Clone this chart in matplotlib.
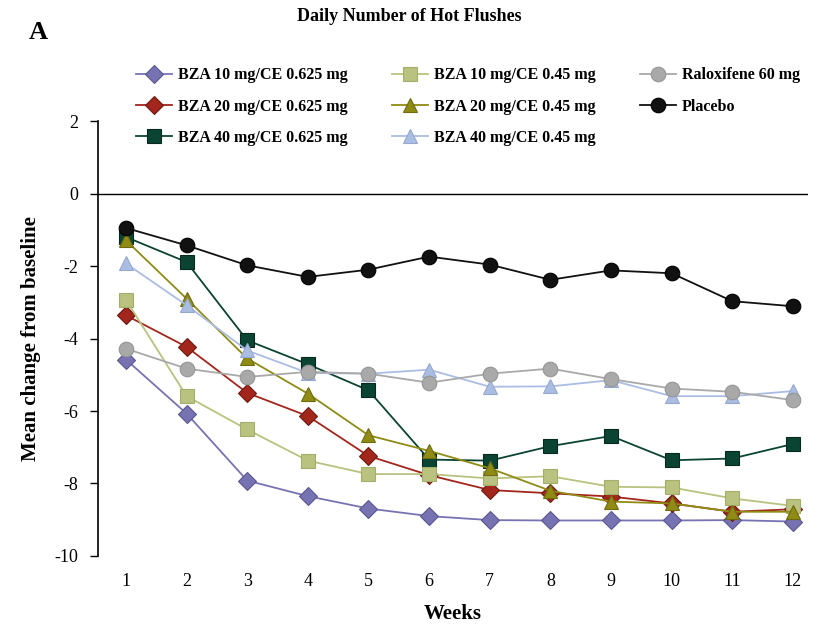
"""
Daily Number of Hot Flushes - mean change from baseline by week
"""
import matplotlib
matplotlib.use('Agg')
import matplotlib.pyplot as plt

plt.rcParams['font.family'] = ['Liberation Serif', 'DejaVu Serif']
plt.rcParams['axes.unicode_minus'] = False

weeks = list(range(1, 13))

# 数据
bza10_0625 = [-4.58, -6.07, -7.92, -8.35, -8.69, -8.90, -9.01, -9.02, -9.02, -9.02, -9.01, -9.05]
bza20_0625 = [-3.36, -4.23, -5.50, -6.14, -7.24, -7.77, -8.18, -8.27, -8.36, -8.55, -8.78, -8.71]
bza40_0625 = [-1.20, -1.89, -4.05, -4.71, -5.43, -7.34, -7.37, -6.97, -6.69, -7.36, -7.31, -6.91]
bza10_045 = [-2.93, -5.59, -6.51, -7.37, -7.74, -7.74, -7.86, -7.80, -8.09, -8.11, -8.41, -8.62]
bza20_045 = [-1.29, -2.90, -4.55, -5.52, -6.67, -7.10, -7.58, -8.20, -8.50, -8.55, -8.78, -8.78]
bza40_045 = [-1.93, -3.08, -4.33, -4.95, -4.97, -4.86, -5.33, -5.32, -5.15, -5.59, -5.59, -5.45]
raloxifene = [-4.28, -4.83, -5.06, -4.92, -4.97, -5.22, -4.97, -4.83, -5.12, -5.38, -5.47, -5.70]
placebo = [-0.95, -1.43, -1.98, -2.30, -2.10, -1.74, -1.96, -2.38, -2.12, -2.20, -2.97, -3.11]

series = [
    ("BZA 10 mg/CE 0.625 mg", bza10_0625, 'D', '#7773b2', '#5a5690', 9.5),
    ("BZA 20 mg/CE 0.625 mg", bza20_0625, 'D', '#a3261c', '#6e1a12', 9.5),
    ("BZA 40 mg/CE 0.625 mg", bza40_0625, 's', '#0b4433', '#062a1f', 9.5),
    ("BZA 10 mg/CE 0.45 mg", bza10_045, 's', '#b9c27e', '#a4ad6a', 9.5),
    ("BZA 20 mg/CE 0.45 mg", bza20_045, '^', '#8f8b14', '#6f6b0e', 10.5),
    ("BZA 40 mg/CE 0.45 mg", bza40_045, '^', '#abbde3', '#95a8d0', 10.5),
    ("Raloxifene 60 mg", raloxifene, 'o', '#a9a9a9', '#959595', 10.5),
    ("Placebo", placebo, 'o', '#111111', '#000000', 10.5),
]

fig = plt.figure(figsize=(8.19, 6.24), dpi=100)
ax = fig.add_axes([0.1197, 0.109, 0.867, 0.697])

# 绘制各组曲线
for label, vals, mk, col, ecol, ms in series:
    ax.plot(weeks, vals, color=col, lw=1.3, marker=mk, markersize=ms,
            markerfacecolor=col, markeredgecolor=ecol, markeredgewidth=0.8,
            label=label)

ax.axhline(0, color='black', lw=1.0, zorder=0)

ax.set_xlim(0.54, 12.25)
ax.set_ylim(-10, 2)
ax.set_yticks([2, 0, -2, -4, -6, -8, -10])
ax.set_xticks(weeks)
ax.tick_params(axis='y', direction='out', length=6, width=1, labelsize=13, pad=8)
ax.tick_params(axis='x', length=0, labelsize=13, pad=12)

for s in ['top', 'right', 'bottom']:
    ax.spines[s].set_visible(False)
ax.spines['left'].set_linewidth(1.2)

ax.set_xlabel('Weeks', fontsize=15, fontweight='bold', labelpad=10)
ax.set_ylabel('Mean change from baseline', fontsize=15, fontweight='bold', labelpad=10)

fig.text(0.5, 0.974, 'Daily Number of Hot Flushes', ha='center', va='center',
         fontsize=13, fontweight='bold')
fig.text(0.035, 0.948, 'A', ha='left', va='center', fontsize=19, fontweight='bold')

leg = fig.legend(loc='upper left', bbox_to_anchor=(0.148, 0.915), ncol=3,
                 frameon=False, prop={'size': 11.5, 'weight': 'bold'},
                 handlelength=2.3, columnspacing=2.75, labelspacing=0.95,
                 handletextpad=0.35)

plt.savefig('out.png', dpi=100)
